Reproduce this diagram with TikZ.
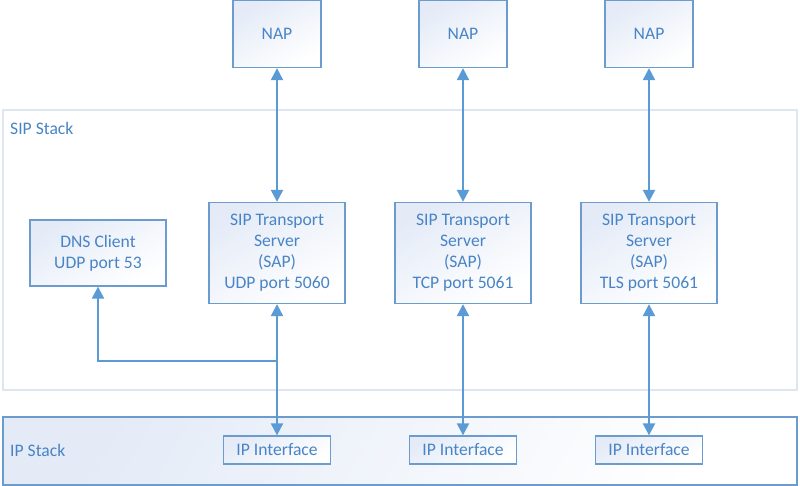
\documentclass[tikz,border=0pt]{standalone}
\usepackage{fontspec}
\setmainfont{Carlito}
\usetikzlibrary{arrows.meta,positioning,calc}
\definecolor{ink}{RGB}{72,132,198}
\definecolor{edge}{RGB}{108,155,205}
\definecolor{wire}{RGB}{91,155,213}
\definecolor{pale}{RGB}{222,230,240}
\definecolor{wash}{RGB}{228,235,247}
\tikzset{
  every picture/.style={x=1pt, y=-1pt, font=\fontsize{17.6}{21}\selectfont, text=ink},
  box/.style={draw=edge, line width=1.3pt, inner sep=0pt, align=center,
    top color=wash, bottom color=white, shading angle=30},
  nap/.style={box, minimum width=88pt, minimum height=67pt},
  sap/.style={box, minimum width=136pt, minimum height=101pt},
  ipif/.style={box, minimum width=107pt, minimum height=28pt},
  layer/.style={draw=pale, line width=1.3pt, fill=white, inner sep=0pt, minimum width=794pt},
  iplayer/.style={box, draw=edge, minimum width=794pt, minimum height=68pt, shading angle=60},
  flow/.style={{Triangle[length=12pt,width=12pt]}-{Triangle[length=12pt,width=12pt]}, draw=wire, line width=2.2pt},
  upflow/.style={-{Triangle[length=12pt,width=12pt]}, draw=wire, line width=2.2pt},
  tag/.style={anchor=west, inner sep=0pt},
}
\begin{document}
\begin{tikzpicture}
  \useasboundingbox (0,0) rectangle (800,485);
  % layers
  \node[layer, minimum height=280pt] (sip) at (400,250) {};
  \node[tag] (siplbl) at (10,128) {SIP Stack};
  \node[iplayer] (ip) at (400,451) {};
  \node[tag] (iplbl) at (10,450) {IP Stack};
  % top row
  \node[nap] (napA) at (277,34) {NAP};
  \node[nap] (napB) at (463,34) {NAP};
  \node[nap] (napC) at (649,34) {NAP};
  % transport servers
  \node[sap] (sapA) at (277,253) {SIP Transport\\Server\\(SAP)\\UDP port 5060};
  \node[sap] (sapB) at (463,253) {SIP Transport\\Server\\(SAP)\\TCP port 5061};
  \node[sap] (sapC) at (649,253) {SIP Transport\\Server\\(SAP)\\TLS port 5061};
  \node[box, minimum width=136pt, minimum height=66pt] (dns) at (98,253) {DNS Client\\UDP port 53};
  % interfaces
  \node[ipif] (ifA) at (277,450) {IP Interface};
  \node[ipif] (ifB) at (463,450) {IP Interface};
  \node[ipif] (ifC) at (649,450) {IP Interface};
  \coordinate (split) at (277,361);
  % links
  \draw[flow] (napA) -- (sapA);
  \draw[flow] (napB) -- (sapB);
  \draw[flow] (napC) -- (sapC);
  \draw[flow] (ifA) -- (sapA);
  \draw[flow] (ifB) -- (sapB);
  \draw[flow] (ifC) -- (sapC);
  \draw[upflow] (split) -| (dns);
\end{tikzpicture}
\end{document}
